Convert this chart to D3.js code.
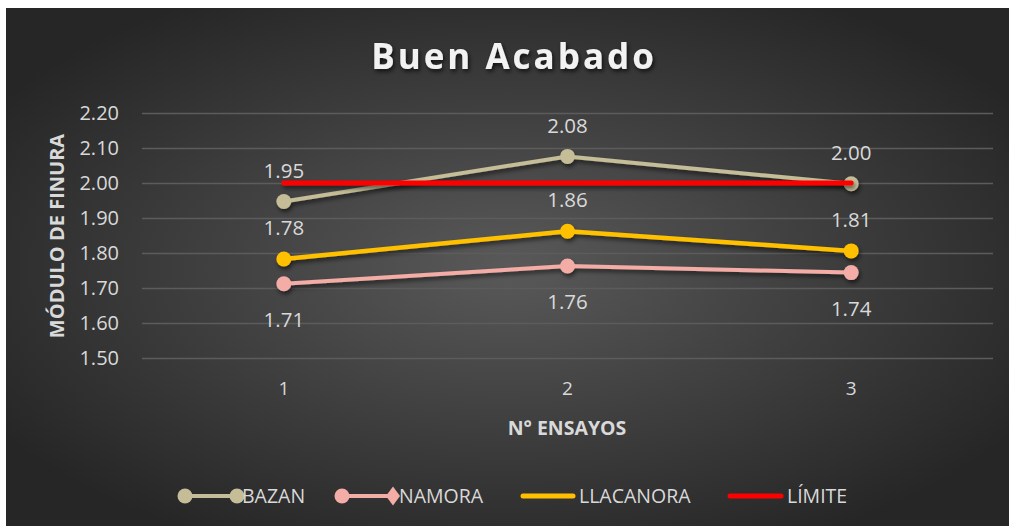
<!DOCTYPE html>
<html>
<head>
<meta charset="utf-8">
<script src="https://cdn.jsdelivr.net/npm/d3@7"></script>
<style>
html,body{margin:0;padding:0;background:#fff;}
svg{display:block;}
text{font-family:"Open Sans","Noto Sans",sans-serif;}
</style>
</head>
<body>
<svg id="chart" width="1009" height="528"></svg>
<script>
const categories = ["1", "2", "3"];
const yTicks = [1.5, 1.6, 1.7, 1.8, 1.9, 2.0, 2.1, 2.2];
const bazan = [1.947, 2.076, 1.998];
const namora = [1.712, 1.763, 1.744];
const llacanora = [1.783, 1.862, 1.806];
const limite = [2.0, 2.0, 2.0];
const seriesNames = ["BAZAN", "NAMORA", "LLACANORA", "LÍMITE"];
const seriesColors = ["#c4bd97", "#f4aca6", "#ffc000", "#ff0000"];

const svg = d3.select("#chart");
const W = 1009, H = 528;
const defs = svg.append("defs");
const rg = defs.append("radialGradient").attr("id","bg")
  .attr("cx","50%").attr("cy","50%").attr("r","60%");
rg.append("stop").attr("offset","0%").attr("stop-color","#595959");
rg.append("stop").attr("offset","100%").attr("stop-color","#262626");
const f = defs.append("filter").attr("id","sh").attr("filterUnits","userSpaceOnUse")
  .attr("x",0).attr("y",0).attr("width",W).attr("height",H);
f.append("feDropShadow").attr("dx",1.5).attr("dy",3).attr("stdDeviation",2).attr("flood-color","#000").attr("flood-opacity",0.55);
const ft = defs.append("filter").attr("id","tsh").attr("filterUnits","userSpaceOnUse")
  .attr("x",0).attr("y",0).attr("width",W).attr("height",H);
ft.append("feDropShadow").attr("dx",1.5).attr("dy",2.5).attr("stdDeviation",2).attr("flood-color","#000").attr("flood-opacity",0.7);

svg.append("rect").attr("x",6).attr("y",8).attr("width",W-6).attr("height",H-10).attr("fill","url(#bg)");

const x = d3.scaleBand().domain(categories).range([142, 993]);
const y = d3.scaleLinear().domain([1.5, 2.2]).range([358, 113]);
const cx = c => x(c) + x.bandwidth()/2;

// gridlines
const yAxis = d3.axisLeft(y).tickValues(yTicks).tickFormat(d3.format(".2f")).tickSize(-(993-142)).tickPadding(23);
const gy = svg.append("g").attr("transform","translate(142,0)").call(yAxis);
gy.select(".domain").remove();
gy.selectAll(".tick line").attr("stroke","#5c5c5c").attr("stroke-width",1.5);
gy.selectAll(".tick text").attr("fill","#d9d9d9").attr("font-size",20).attr("font-family","'Open Sans',sans-serif");

const xAxis = d3.axisBottom(x).tickSize(0).tickPadding(24);
const gx = svg.append("g").attr("transform","translate(0,358)").call(xAxis);
gx.select(".domain").remove();
gx.selectAll(".tick text").attr("fill","#d9d9d9").attr("font-size",19).attr("font-family","'Open Sans',sans-serif");

// title
svg.append("text").attr("x",514).attr("y",69).attr("text-anchor","middle")
  .attr("fill","#f2f2f2").attr("font-size",35).attr("font-weight","bold").attr("letter-spacing",3)
  .attr("filter","url(#tsh)").text("Buen Acabado");

// axis titles
svg.append("text").attr("transform","translate(64,236) rotate(-90)").attr("text-anchor","middle")
  .attr("fill","#d9d9d9").attr("font-size",20).attr("font-weight","bold").text("MÓDULO DE FINURA");
svg.append("text").attr("x",567).attr("y",435).attr("text-anchor","middle")
  .attr("fill","#d9d9d9").attr("font-size",19.5).attr("font-weight","bold").text("N° ENSAYOS");

const line = d3.line().x((d,i)=>cx(categories[i])).y(d=>y(d));
const plotSeries = [
  {vals: bazan, color: seriesColors[0], w: 4, marker: true, lab: "above"},
  {vals: namora, color: seriesColors[1], w: 4, marker: true, lab: "below"},
  {vals: llacanora, color: seriesColors[2], w: 4.5, marker: true, lab: "above"},
  {vals: limite, color: seriesColors[3], w: 5, marker: false, lab: null}
];
plotSeries.forEach(s => {
  const g = svg.append("g").attr("filter","url(#sh)");
  g.append("path").datum(s.vals).attr("d",line).attr("fill","none")
    .attr("stroke",s.color).attr("stroke-width",s.w).attr("stroke-linecap","round").attr("stroke-linejoin","round");
  if (s.marker) {
    g.selectAll("circle").data(s.vals).enter().append("circle")
      .attr("cx",(d,i)=>cx(categories[i])).attr("cy",d=>y(d)).attr("r",7.5).attr("fill",s.color);
  }
});
plotSeries.forEach(s => {
  if (!s.lab) return;
  svg.append("g").selectAll("text").data(s.vals).enter().append("text")
    .attr("x",(d,i)=>cx(categories[i])).attr("y",d=>y(d) + (s.lab==="above" ? -31 : 36))
    .attr("dy","0.35em").attr("text-anchor","middle").attr("fill","#d9d9d9").attr("font-size",20.5)
    .text(d=>d.toFixed(2));
});

// legend
const ly = 496;
const lfs = 19.5;
const leg = svg.append("g");
// BAZAN
leg.append("line").attr("x1",185).attr("x2",237).attr("y1",ly).attr("y2",ly).attr("stroke",seriesColors[0]).attr("stroke-width",4);
leg.append("circle").attr("cx",185).attr("cy",ly).attr("r",7.5).attr("fill",seriesColors[0]);
leg.append("circle").attr("cx",237).attr("cy",ly).attr("r",7.5).attr("fill",seriesColors[0]);
leg.append("text").attr("x",242).attr("y",ly).attr("dy","0.35em").attr("fill","#d9d9d9").attr("font-size",lfs).text(seriesNames[0]);
// NAMORA
leg.append("line").attr("x1",342).attr("x2",393).attr("y1",ly).attr("y2",ly).attr("stroke",seriesColors[1]).attr("stroke-width",4);
leg.append("circle").attr("cx",342).attr("cy",ly).attr("r",7.5).attr("fill",seriesColors[1]);
leg.append("path").attr("d",d3.symbol().type(d3.symbolDiamond).size(130)()).attr("transform",`translate(393,${ly}) scale(1.15,0.9)`).attr("fill",seriesColors[1]);
leg.append("text").attr("x",399).attr("y",ly).attr("dy","0.35em").attr("fill","#d9d9d9").attr("font-size",lfs).text(seriesNames[1]);
// LLACANORA
leg.append("line").attr("x1",523).attr("x2",573).attr("y1",ly).attr("y2",ly).attr("stroke",seriesColors[2]).attr("stroke-width",5).attr("stroke-linecap","round");
leg.append("text").attr("x",579).attr("y",ly).attr("dy","0.35em").attr("fill","#d9d9d9").attr("font-size",lfs).text(seriesNames[2]);
// LIMITE
leg.append("line").attr("x1",730).attr("x2",781).attr("y1",ly).attr("y2",ly).attr("stroke",seriesColors[3]).attr("stroke-width",5).attr("stroke-linecap","round");
leg.append("text").attr("x",787).attr("y",ly).attr("dy","0.35em").attr("fill","#d9d9d9").attr("font-size",lfs).text(seriesNames[3]);
</script>
</body>
</html>
